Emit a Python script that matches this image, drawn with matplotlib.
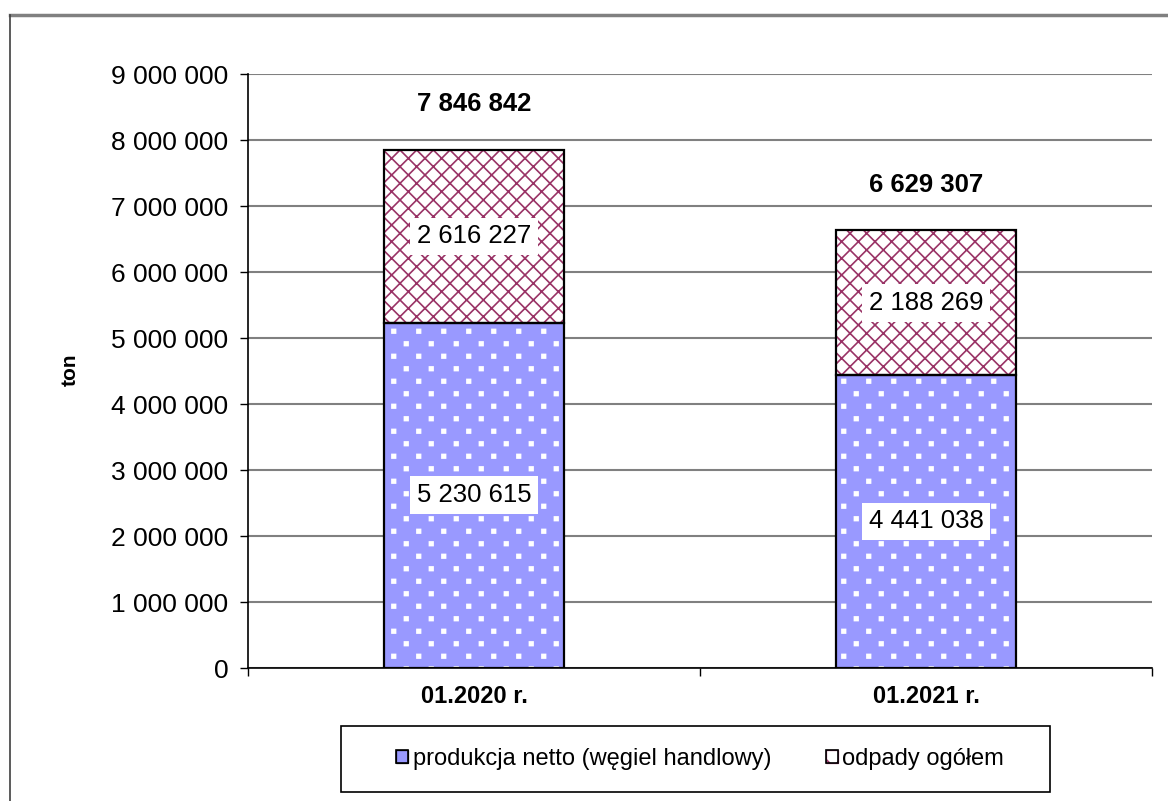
import numpy as np
import matplotlib.pyplot as plt
import matplotlib.ticker as mticker
import matplotlib.hatch as mhatch
from matplotlib.path import Path
from matplotlib.lines import Line2D
from matplotlib.patches import Patch, Rectangle

# data
categories = ["01.2020 r.", "01.2021 r."]
produkcja = [5230615, 4441038]
odpady = [2616227, 2188269]
totals = [7846842, 6629307]
series_names = ["produkcja netto (węgiel handlowy)", "odpady ogółem"]


class SquareDots(mhatch.HatchPatternBase):
    """Staggered small squares, used instead of the 'O' circle hatch."""

    def __init__(self, hatch, density):
        n = hatch.count('O')
        self.cols = 4 * n
        self.rows = 8 * n
        self.num_vertices = self.cols * self.rows * 5

    def set_vertices_and_codes(self, vertices, codes):
        h = 0.018
        sq = np.array([[-h, -h], [h, -h], [h, h], [-h, h], [-h, -h]])
        k = 0
        for r in range(self.rows):
            y = (r + 0.5) / self.rows
            off = 0.25 if r % 2 == 0 else 0.75
            for c in range(self.cols):
                xc = (c + off) / self.cols
                vertices[k:k + 5] = sq + [xc, y]
                codes[k] = Path.MOVETO
                codes[k + 1:k + 4] = Path.LINETO
                codes[k + 4] = Path.CLOSEPOLY
                k += 5


mhatch._hatch_types = [SquareDots if t is mhatch.LargeCircles else t
                       for t in mhatch._hatch_types]


def fmt(v, pos=None):
    return f"{int(v):,}".replace(",", " ")


plt.rcParams['font.family'] = ['Liberation Sans', 'DejaVu Sans']
plt.rcParams['hatch.linewidth'] = 1.2

fig = plt.figure(figsize=(11.68, 8.01), dpi=100)
ax = fig.add_axes([248 / 1168, 133 / 801, 904 / 1168, 594 / 801])

x = [0, 1]
width = 0.40

# bottom series: blue with white square dots
ax.bar(x, produkcja, width, color='#9999FF', edgecolor='white', hatch='O',
       linewidth=0, zorder=3)
# top series: white with maroon crosshatch
ax.bar(x, odpady, width, bottom=produkcja, color='white', edgecolor='#993366',
       hatch='xx', linewidth=0, zorder=3)
# outlines
ax.bar(x, produkcja, width, fill=False, edgecolor='black', linewidth=1.6, zorder=4)
ax.bar(x, odpady, width, bottom=produkcja, fill=False, edgecolor='black',
       linewidth=1.6, zorder=4)

box = dict(facecolor='white', edgecolor='none', pad=5)
for i in x:
    ax.text(i, produkcja[i] / 2, fmt(produkcja[i]), ha='center', va='center',
            fontsize=18.5, bbox=box, zorder=5)
    ax.text(i, produkcja[i] + odpady[i] / 2, fmt(odpady[i]), ha='center',
            va='center', fontsize=18.5, bbox=box, zorder=5)
    ax.annotate(fmt(totals[i]), (i, totals[i]), xytext=(0, 33),
                textcoords='offset points', ha='center', va='center',
                fontsize=18.5, fontweight='bold')

ax.set_xlim(-0.5, 1.5)
ax.set_ylim(0, 9000000)
ax.yaxis.set_major_locator(mticker.MultipleLocator(1000000))
ax.yaxis.set_major_formatter(mticker.FuncFormatter(fmt))
ax.tick_params(axis='y', labelsize=19, length=6, width=1, pad=8)

ax.set_xticks(x)
ax.set_xticklabels(categories, fontsize=17, fontweight='bold')
ax.set_xticks([-0.5, 0.5, 1.5], minor=True)
ax.tick_params(axis='x', which='major', length=0, pad=12)
ax.tick_params(axis='x', which='minor', length=6, width=1)

ax.grid(axis='y', color='#808080', linewidth=1.5, zorder=0)
ax.set_axisbelow(True)
for s in ['top', 'right']:
    ax.spines[s].set_visible(False)
ax.spines['left'].set_linewidth(1.2)
ax.spines['bottom'].set_linewidth(1.2)

fig.text(70 / 1168, 1 - 370 / 801, "ton", rotation=90, ha='center',
         va='center', fontsize=15, fontweight='bold')

# legend frame and entries
lx0, ly0, lw, lh = 341 / 1168, 1 - 792 / 801, 709 / 1168, 66 / 801
fig.add_artist(Rectangle((lx0, ly0), lw, lh, transform=fig.transFigure,
                         facecolor='white', edgecolor='black', linewidth=1.2))
handles = [Patch(facecolor='#9999FF', edgecolor='black', linewidth=0.9),
           Patch(facecolor='white', edgecolor='#993366', hatch='x', linewidth=0.9)]
leg = fig.legend(handles, series_names, ncol=2, loc='center',
                 bbox_to_anchor=(lx0 + lw / 2 + 0.004, ly0 + lh / 2),
                 fontsize=17, frameon=False,
                 handlelength=0.5, handleheight=0.5,
                 handletextpad=0.2, columnspacing=2.3)
# black outline on the hatched legend key
leg.legend_handles[1].set_edgecolor('#993366')
fig.canvas.draw()
for h in leg.legend_handles:
    bb = h.get_window_extent()
    fig.add_artist(Rectangle((bb.x0, bb.y0), bb.width, bb.height,
                             transform=None, fill=False, edgecolor='black',
                             linewidth=1.2, zorder=10))

# outer chart frame
fig.add_artist(Line2D([10 / 1168, 1.0], [1 - 15 / 801, 1 - 15 / 801],
                      transform=fig.transFigure, color='#808080', linewidth=2.5))
fig.add_artist(Line2D([10 / 1168, 10 / 1168], [0, 1 - 15 / 801],
                      transform=fig.transFigure, color='#404040', linewidth=1.2))

fig.savefig("out.png", dpi=100)
